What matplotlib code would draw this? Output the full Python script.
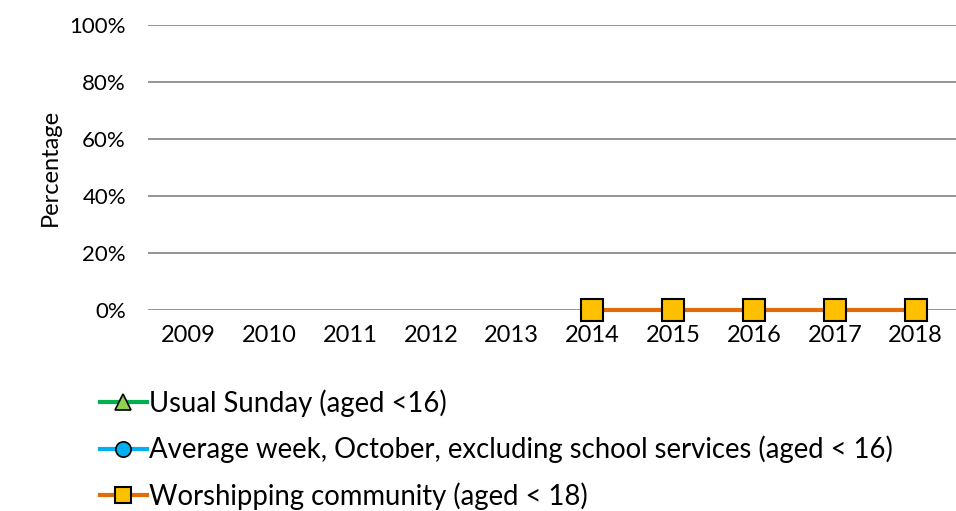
import numpy as np
import matplotlib.pyplot as plt

plt.rcParams['font.family'] = ['Lato', 'DejaVu Sans']

years = ['2009', '2010', '2011', '2012', '2013', '2014', '2015', '2016', '2017', '2018']
usual_sunday = [np.nan] * 10
average_week = [np.nan] * 10
worshipping = [np.nan, np.nan, np.nan, np.nan, np.nan, 0, 0, 0, 0, 0]

fig = plt.figure(figsize=(9.56, 5.11), dpi=100)
ax = fig.add_axes([0.155, 0.393, 0.845, 0.558])

x = np.arange(len(years))
ax.plot(x, usual_sunday, color='#00b050', lw=3, marker='^', ms=13,
        mfc='#92d050', mec='black', mew=1.2, label='Usual Sunday (aged <16)')
ax.plot(x, average_week, color='#00b0f0', lw=3, marker='o', ms=13,
        mfc='#00b0f0', mec='black', mew=1.2,
        label='Average week, October, excluding school services (aged < 16)')
ax.plot(x, worshipping, color='#e36c09', lw=3, marker='s', ms=16,
        mfc='#ffc000', mec='black', mew=1.5, label='Worshipping community (aged < 18)',
        zorder=5, clip_on=False)

ax.set_xlim(-0.5, 9.5)
ax.set_ylim(0, 1)
ax.set_yticks(np.arange(0, 1.01, 0.2))
ax.set_yticklabels(['%d%%' % v for v in range(0, 101, 20)])
ax.set_xticks(x)
ax.set_xticklabels(years)
ax.tick_params(axis='y', length=0, labelsize=16, colors='black', pad=16)
ax.tick_params(axis='x', length=0, labelsize=17, colors='black', pad=11)
ax.grid(axis='y', color='#8c8c8c', lw=1.3)
ax.set_axisbelow(True)
for s in ax.spines.values():
    s.set_visible(False)
ax.set_ylabel('Percentage', fontsize=17, labelpad=6)

leg = fig.legend(loc='upper left', bbox_to_anchor=(0.09, 0.265), frameon=False,
                 fontsize=19.8, handlelength=1.7, handletextpad=0.1, labelspacing=0.68,
                 borderpad=0)
for h in leg.legend_handles:
    h.set_markersize(11)

fig.savefig('out.png', dpi=100)
